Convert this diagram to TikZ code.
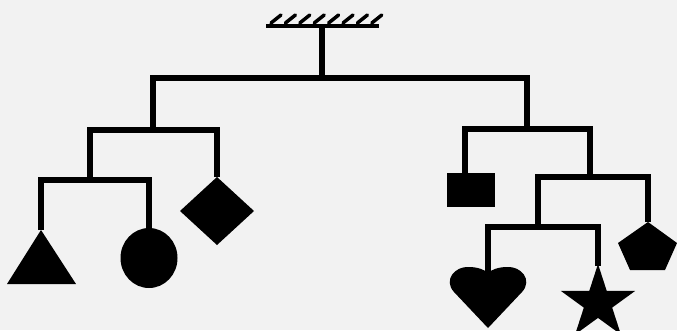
\documentclass[tikz,border=0pt]{standalone}
\usepackage{tikz}
\usetikzlibrary{shapes.geometric}
\definecolor{paper}{RGB}{242,242,242}
\tikzset{
  rod/.style={draw=black, line width=6pt, line join=miter},
  hatch/.style={draw=black, line width=3.5pt, line cap=round},
  weight/.style={fill=black, draw=none}
}

\begin{document}
\begin{tikzpicture}[x=1pt, y=-1pt]
  \fill[paper] (0,0) rectangle (677,330);
  \clip (0,0) rectangle (677,330);
  % ceiling
  \draw[rod, line width=4.5pt] (266,26) -- (379,26);
  \foreach \i in {0,...,7}
    \draw[hatch] (271+14.4*\i,23) -- ++(10,-8);
  % pivots of the bars
  \coordinate (hook) at (322,26);
  \coordinate (m) at (322,78);
  \coordinate (l) at (153,130);
  \coordinate (r) at (527,129);
  \coordinate (ll) at (90,180);
  \coordinate (rr) at (590,177);
  \coordinate (rl) at (538,227);
  % hanging points of the weights
  \coordinate (tri) at (41,230);
  \coordinate (ball) at (149,229);
  \coordinate (dia) at (217,177);
  \coordinate (box) at (465,173);
  \coordinate (pent) at (648,222);
  \coordinate (heart) at (488,273);
  \coordinate (star) at (598,266);
  % rods
  \draw[rod] (hook) -- (m);
  \draw[rod] (l) |- (m) -| (r);
  \draw[rod] (ll) |- (l) -| (dia);
  \draw[rod] (tri) |- (ll) -| (ball);
  \draw[rod] (box) |- (r) -| (rr);
  \draw[rod] (rl) |- (rr) -| (pent);
  \draw[rod] (heart) |- (rl) -| (star);
  % weights
  \fill[weight] (tri) -- ++(-34,54) -- ++(69,0) -- cycle;
  \fill[weight] (149,258) ellipse[x radius=28.5pt, y radius=30pt];
  \fill[weight] (dia) -- ++(-37,34) -- ++(37,34) -- ++(37,-34) -- cycle;
  \fill[weight] (447,173) rectangle (495,207);
  \fill[weight] (pent) -- (677,243) -- (665,270) -- (630,270) -- (618,243) -- cycle;
  \fill[weight] (488,328) -- (454,292)
    .. controls (443,280) and (455,266) .. (469,267)
    .. controls (478,267) and (485,270) .. (heart)
    .. controls (491,270) and (498,267) .. (507,267)
    .. controls (521,266) and (533,280) .. (522,292) -- cycle;
  \node[star, star points=5, star point ratio=2.618, minimum size=78pt,
        inner sep=0pt, weight] (s) at (598,303) {};
\end{tikzpicture}
\end{document}
